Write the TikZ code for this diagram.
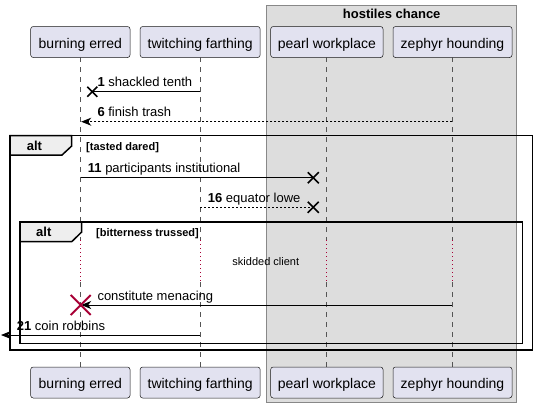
\documentclass[tikz,border=0pt]{standalone}
\usepackage{fontspec}
\setmainfont{Liberation Sans}
\usetikzlibrary{arrows.meta}
\definecolor{partfill}{HTML}{E2E2F0}
\definecolor{partdraw}{HTML}{181818}
\definecolor{boxfill}{HTML}{DDDDDD}
\definecolor{boxdraw}{HTML}{888888}
\definecolor{tabfill}{HTML}{EEEEEE}
\definecolor{destroyc}{HTML}{A80036}
\definecolor{lifec}{HTML}{555555}
\begin{document}
\begin{tikzpicture}[x=1pt,y=-1pt,
  part/.style={draw=partdraw, fill=partfill, rounded corners=2.5pt, line width=0.5pt,
    minimum height=31pt, inner sep=0pt, text height=14pt, text depth=1.4pt,
    font=\fontsize{14}{16}\selectfont},
  lifeline/.style={draw=lifec, line width=0.5pt, dash pattern=on 5pt off 5pt},
  delayline/.style={draw=destroyc, line width=1pt, dash pattern=on 1pt off 3pt},
  msg/.style={draw=black, line width=1pt},
  dmsg/.style={draw=black, line width=1pt, dash pattern=on 2pt off 2pt},
  tip/.style={-{Stealth[length=10pt,width=8pt,inset=3pt]}},
  lbl/.style={anchor=base west, inner sep=0pt, font=\fontsize{13}{15}\selectfont},
  xmark/.style={draw=black, line width=1.6pt},
  redx/.style={draw=destroyc, line width=2pt},
  frame/.style={draw=black, line width=1.5pt},
  tab/.style={draw=black, line width=1.5pt, fill=tabfill},
  tabtxt/.style={anchor=base west, inner sep=0pt, font=\fontsize{13}{15}\selectfont\bfseries},
  guard/.style={anchor=base west, inner sep=0pt, font=\fontsize{11}{13}\selectfont\bfseries},
  note/.style={anchor=base, inner sep=0pt, font=\fontsize{11}{13}\selectfont}
]
\useasboundingbox (0,0) rectangle (537,408);
\fill[white] (0,0) rectangle (537,408);

% group box
\draw[draw=boxdraw, fill=boxfill, line width=1pt] (266.7,5.5) rectangle (516.7,402.5);
\node[anchor=base, inner sep=0pt, font=\fontsize{13}{15}\selectfont\bfseries] (boxtitle) at (391.7,18.3) {hostiles chance};

% lifelines with delay segment
\foreach \x/\n in {80.7/b,200.3/t,326.7/p,452.3/z}{
  \coordinate (\n T) at (\x,57.3);
  \coordinate (\n D1) at (\x,240);
  \coordinate (\n D2) at (\x,282);
  \coordinate (\n B) at (\x,366.7);
  \draw[lifeline] (\n T) -- (\n D1);
  \draw[delayline] (\n D1) -- (\n D2);
  \draw[lifeline] (\n D2) -- (\n B);
}

% participants
\node[part, minimum width=99.3pt] (be1) at (80.35,42) {burning erred};
\node[part, minimum width=120pt] (tf1) at (200.15,42) {twitching farthing};
\node[part, minimum width=112.3pt] (pw1) at (326.85,42) {pearl workplace};
\node[part, minimum width=119pt] (zh1) at (452.5,42) {zephyr hounding};
\node[part, minimum width=99.3pt] (be2) at (80.35,382.5) {burning erred};
\node[part, minimum width=120pt] (tf2) at (200.15,382.5) {twitching farthing};
\node[part, minimum width=112.3pt] (pw2) at (326.85,382.5) {pearl workplace};
\node[part, minimum width=119pt] (zh2) at (452.5,382.5) {zephyr hounding};

% message 1
\coordinate (m1s) at (200.3,91.7);
\coordinate (m1e) at (92.3,91.7);
\draw[msg] (m1s) -- (m1e);
\draw[xmark] ([shift={(-5,-5)}]m1e) -- ([shift={(5,5)}]m1e);
\draw[xmark] ([shift={(-5,5)}]m1e) -- ([shift={(5,-5)}]m1e);
\node[lbl] (l1) at (97.3,86.7) {\textbf{1} shackled tenth};

% message 6
\coordinate (m6s) at (452.3,121.7);
\coordinate (m6e) at (81.2,121.7);
\draw[dmsg, tip] (m6s) -- (m6e);
\node[lbl] (l6) at (97.3,116.7) {\textbf{6} finish trash};

% outer alt
\draw[frame] (10,135.7) rectangle (532.7,350);
\draw[tab] (10,135.7) -- (71.7,135.7) -- (71.7,146) -- (62,155) -- (10,155) -- cycle;
\node[tabtxt] (alt1) at (26.7,150) {alt};
\node[guard] (g1) at (86,150) {[tasted dared]};

% message 11
\coordinate (m11s) at (80.7,177.7);
\coordinate (m11e) at (313.3,177.7);
\draw[msg] (m11s) -- (m11e);
\draw[xmark] ([shift={(-5.5,-5.5)}]m11e) -- ([shift={(5.5,5.5)}]m11e);
\draw[xmark] ([shift={(-5.5,5.5)}]m11e) -- ([shift={(5.5,-5.5)}]m11e);
\node[lbl] (l11) at (87.7,172.7) {\textbf{11} participants institutional};

% message 16
\coordinate (m16s) at (200.3,207.3);
\coordinate (m16e) at (313.3,207.3);
\draw[dmsg] (m16s) -- (m16e);
\draw[xmark] ([shift={(-5.5,-5.5)}]m16e) -- ([shift={(5.5,5.5)}]m16e);
\draw[xmark] ([shift={(-5.5,5.5)}]m16e) -- ([shift={(5.5,-5.5)}]m16e);
\node[lbl] (l16) at (207.7,202.3) {\textbf{16} equator lowe};

% inner alt
\draw[frame] (20,222) rectangle (522.7,343.3);
\draw[tab] (20,222) -- (81.7,222) -- (81.7,232) -- (71.7,241.7) -- (20,241.7) -- cycle;
\node[tabtxt] (alt2) at (36,236) {alt};
\node[guard] (g2) at (96,236) {[bitterness trussed]};

% delay text
\node[note] (delay) at (265.8,265.5) {skidded client};

% constitute menacing
\coordinate (mcs) at (452.3,305);
\coordinate (mce) at (81.2,305);
\draw[msg, tip] (mcs) -- (mce);
\coordinate (dx) at (80.7,305);
\draw[redx] ([shift={(-10,-10)}]dx) -- ([shift={(10,10)}]dx);
\draw[redx] ([shift={(-10,10)}]dx) -- ([shift={(10,-10)}]dx);
\node[lbl] (lc) at (97.3,300) {constitute menacing};

% message 21
\coordinate (m21s) at (200.3,335);
\coordinate (m21e) at (1,335);
\draw[msg, tip] (m21s) -- (m21e);
\node[lbl] (l21) at (16.7,330) {\textbf{21} coin robbins};
\end{tikzpicture}
\end{document}
